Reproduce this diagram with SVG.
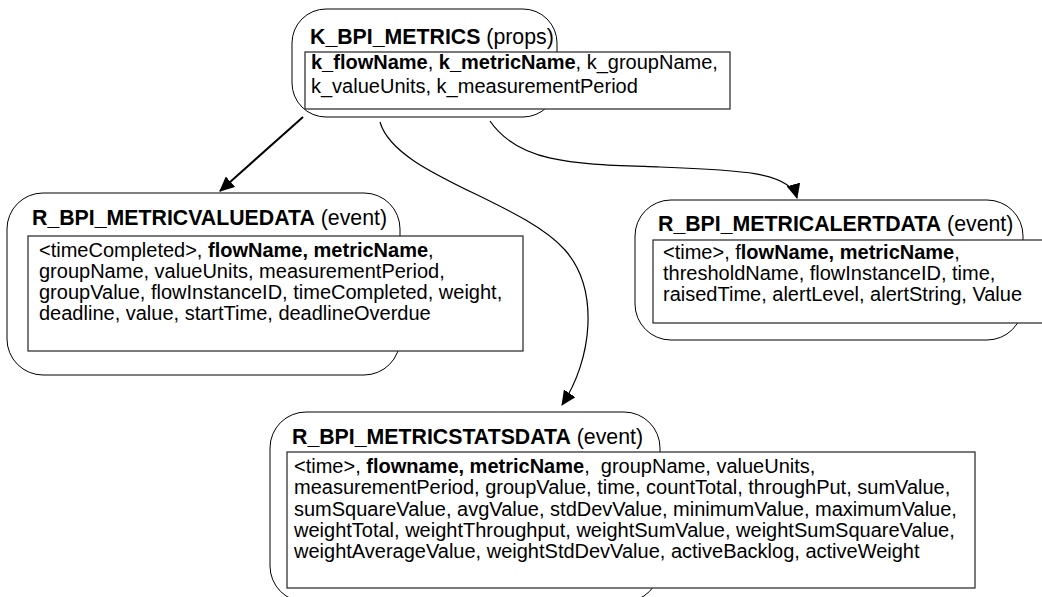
<svg xmlns="http://www.w3.org/2000/svg" width="1042" height="597" viewBox="0 0 1042 597">
  <style>
    .frame { fill: #ffffff; stroke: #000000; stroke-width: 1; }
    .box { fill: #ffffff; stroke: #222222; stroke-width: 1.2; }
    .title { font-family: "Liberation Sans", Arial, sans-serif; font-size: 21.3px; fill: #000000; }
    .body { font-family: "Liberation Sans", Arial, sans-serif; font-size: 20px; fill: #000000; }
    .b { font-weight: bold; }
    .link { fill: none; stroke: #000000; stroke-width: 1.2; }
    .link.heavy { stroke-width: 2; }
  </style>
  <defs>
    <marker id="arrow" markerWidth="16" markerHeight="14" refX="14" refY="7" orient="auto" markerUnits="userSpaceOnUse">
      <path d="M0,0 L15,7 L0,14 z" fill="#000000"/>
    </marker>
  </defs>

  <rect width="1042" height="597" fill="#ffffff"/>

  <!-- property table -->
  <g id="k_bpi_metrics">
    <rect class="frame" x="292" y="9" width="265" height="108" rx="34" ry="34"/>
    <text class="title" x="310" y="44"><tspan class="b">K_BPI_METRICS</tspan> (props)</text>
    <rect class="box" x="305" y="52" width="425" height="57"/>
    <text class="body" x="311" y="69"><tspan class="b">k_flowName</tspan>, <tspan class="b">k_metricName</tspan>, k_groupName,</text>
    <text class="body" x="311" y="93">k_valueUnits, k_measurementPeriod</text>
  </g>

  <!-- metric value events -->
  <g id="r_bpi_metricvaluedata">
    <rect class="frame" x="7" y="193" width="393" height="182" rx="36" ry="36"/>
    <text class="title" x="32" y="225"><tspan class="b">R_BPI_METRICVALUEDATA</tspan> (event)</text>
    <rect class="box" x="28" y="236" width="495" height="115"/>
    <text class="body" x="39" y="257">&lt;timeCompleted&gt;, <tspan class="b">flowName, metricName</tspan>,</text>
    <text class="body" x="39" y="278">groupName, valueUnits, measurementPeriod,</text>
    <text class="body" x="39" y="299">groupValue, flowInstanceID, timeCompleted, weight,</text>
    <text class="body" x="39" y="320">deadline, value, startTime, deadlineOverdue</text>
  </g>

  <!-- metric alert events -->
  <g id="r_bpi_metricalertdata">
    <rect class="frame" x="635" y="200" width="388" height="140" rx="36" ry="36"/>
    <text class="title" x="658" y="231"><tspan class="b">R_BPI_METRICALERTDATA</tspan> (event)</text>
    <rect class="box" x="653" y="240" width="390" height="83"/>
    <text class="body" x="663" y="259">&lt;time&gt;, f<tspan class="b">lowName, metricName</tspan>,</text>
    <text class="body" x="663" y="280">thresholdName, flowInstanceID, time,</text>
    <text class="body" x="663" y="301">raisedTime, alertLevel, alertString, Value</text>
  </g>

  <!-- metric statistics events -->
  <g id="r_bpi_metricstatsdata">
    <rect class="frame" x="270" y="412" width="390" height="190" rx="36" ry="36"/>
    <text class="title" x="292" y="444"><tspan class="b">R_BPI_METRICSTATSDATA</tspan> (event)</text>
    <rect class="box" x="287" y="452" width="688" height="136"/>
    <text class="body" x="294" y="473" xml:space="preserve">&lt;time&gt;, <tspan class="b">flowname, metricName</tspan>,  groupName, valueUnits,</text>
    <text class="body" x="294" y="494">measurementPeriod, groupValue, time, countTotal, throughPut, sumValue,</text>
    <text class="body" x="294" y="516">sumSquareValue, avgValue, stdDevValue, minimumValue, maximumValue,</text>
    <text class="body" x="294" y="537">weightTotal, weightThroughput, weightSumValue, weightSumSquareValue,</text>
    <text class="body" x="294" y="558">weightAverageValue, weightStdDevValue, activeBacklog, activeWeight</text>
  </g>

  <!-- derivation links from the property table -->
  <g id="connectors">
    <path class="link heavy" d="M303,117 L220,191" marker-end="url(#arrow)"/>
    <path class="link" d="M380,122 C395,175 520,200 565,250 C600,290 592,360 562,405" marker-end="url(#arrow)"/>
    <path class="link" d="M490,121 C520,165 580,164 660,167 C740,170 790,172 797,198" marker-end="url(#arrow)"/>
  </g>
</svg>
